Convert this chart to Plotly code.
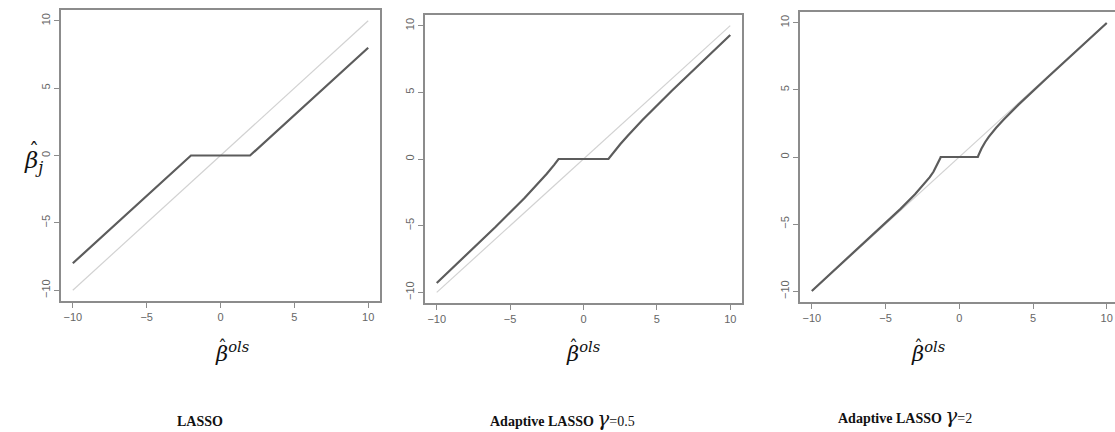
import plotly.graph_objects as go

# identity (OLS) reference line
ols_x = [-10, 10]
ols_y = [-10, 10]

lasso_x = [-10, -2, 2, 10]
lasso_y = [-8, 0, 0, 8]

ada05_x = [-10, -8, -6, -4, -3, -2.5, -2, -1.7, 1.7, 2, 2.5, 3, 4, 6, 8, 10]
ada05_y = [-9.3, -7.22, -5.1, -2.9, -1.73, -1.11, -0.44, 0, 0, 0.44, 1.11, 1.73, 2.9, 5.1, 7.22, 9.3]

ada2_x = [-10, -6, -4, -3, -2.5, -2, -1.75, -1.5, -1.4, -1.3, -1.26,
          1.26, 1.3, 1.4, 1.5, 1.75, 2, 2.5, 3, 4, 6, 10]
ada2_y = [-9.98, -5.94, -3.88, -2.78, -2.18, -1.5, -1.1, -0.61, -0.38, -0.12, 0,
          0, 0.12, 0.38, 0.61, 1.1, 1.5, 2.18, 2.78, 3.88, 5.94, 9.98]

tick_vals = [-10, -5, 0, 5, 10]
tick_text = ["\u221210", "\u22125", "0", "5", "10"]

W, H = 1115, 432
def px(x):
    return x / W
def py(y):
    return 1 - y / H

panels = [
    (lasso_x, lasso_y, [px(61), px(380)], [py(301), py(10)], [-10.8, 10.8], True),
    (ada05_x, ada05_y, [px(425), px(742)], [py(303), py(15)], [-10.8, 10.8], True),
    (ada2_x, ada2_y, [px(800), 1.0], [py(302), py(12)], [-10.8, 10.56], False),
]

fig = go.Figure()
frame_col = "#8c8c8c"
tick_font = dict(family="Liberation Sans, Arial", size=11, color="#666666")

for i, (xs, ys, xd, yd, xr, mirror_y) in enumerate(panels, start=1):
    sfx = "" if i == 1 else str(i)
    fig.add_trace(go.Scatter(x=ols_x, y=ols_y, mode="lines",
                             line=dict(color="#d2d2d2", width=1.2),
                             xaxis="x" + sfx, yaxis="y" + sfx, showlegend=False,
                             hoverinfo="skip"))
    fig.add_trace(go.Scatter(x=xs, y=ys, mode="lines",
                             line=dict(color="#5c5c5c", width=2.2),
                             xaxis="x" + sfx, yaxis="y" + sfx, showlegend=False))
    fig.layout["xaxis" + sfx] = dict(
        domain=xd, range=xr, anchor="y" + sfx,
        showgrid=False, zeroline=False,
        showline=True, mirror=True, linecolor=frame_col, linewidth=1.5,
        ticks="outside", ticklen=5, tickcolor=frame_col, tickwidth=1,
        tickvals=tick_vals, ticktext=tick_text, tickfont=tick_font,
    )
    fig.layout["yaxis" + sfx] = dict(
        domain=yd, range=[-10.8, 10.8], anchor="x" + sfx,
        showgrid=False, zeroline=False,
        showline=True, mirror=mirror_y, linecolor=frame_col, linewidth=1.5,
        ticks="outside", ticklen=5, tickcolor=frame_col, tickwidth=1,
        tickvals=tick_vals, ticktext=tick_text, tickfont=tick_font,
        tickangle=-90,
    )

serif = "DejaVu Serif, Liberation Serif"
annots = []
# beta-hat-ols axis labels (hat drawn as a separate mark above beta)
for cx in [232, 583, 928]:
    annots.append(dict(x=px(cx), y=py(352), xref="paper", yref="paper",
                       text="<i>\u03b2<sup>ols</sup></i>", showarrow=False,
                       font=dict(family=serif, size=21, color="#111111"),
                       xanchor="center", yanchor="middle"))
    annots.append(dict(x=px(cx - 10), y=py(347), xref="paper", yref="paper",
                       text="\u02c6", showarrow=False,
                       font=dict(family=serif, size=18, color="#111111"),
                       xanchor="center", yanchor="middle"))
# beta-hat_j y label
annots.append(dict(x=px(33), y=py(162), xref="paper", yref="paper",
                   text="<i>\u03b2<sub>j</sub></i>", showarrow=False,
                   font=dict(family=serif, size=23, color="#111111"),
                   xanchor="center", yanchor="middle"))
annots.append(dict(x=px(34), y=py(151), xref="paper", yref="paper",
                   text="\u02c6", showarrow=False,
                   font=dict(family=serif, size=20, color="#111111"),
                   xanchor="center", yanchor="middle"))

title_font = dict(family="Liberation Serif, Times New Roman", size=14, color="#111111")
gam = "<span style='font-size:20px;font-family:DejaVu Serif'><i>\u03b3</i></span>"
annots.append(dict(x=px(200), y=py(421), xref="paper", yref="paper",
                   text="<b>LASSO</b>", showarrow=False, font=title_font,
                   xanchor="center", yanchor="middle"))
annots.append(dict(x=px(562), y=py(419), xref="paper", yref="paper",
                   text="<b>Adaptive LASSO </b>" + gam + "=0.5", showarrow=False,
                   font=title_font, xanchor="center", yanchor="middle"))
annots.append(dict(x=px(905), y=py(416), xref="paper", yref="paper",
                   text="<b>Adaptive LASSO </b>" + gam + "=2", showarrow=False,
                   font=title_font, xanchor="center", yanchor="middle"))

fig.update_layout(
    width=W, height=H,
    margin=dict(l=0, r=0, t=0, b=0),
    paper_bgcolor="white", plot_bgcolor="white",
    annotations=annots,
    showlegend=False,
)

fig.write_html("out.html",
               config={"displayModeBar": False},
               post_script="document.body.style.margin='0';document.body.style.overflow='hidden';")
